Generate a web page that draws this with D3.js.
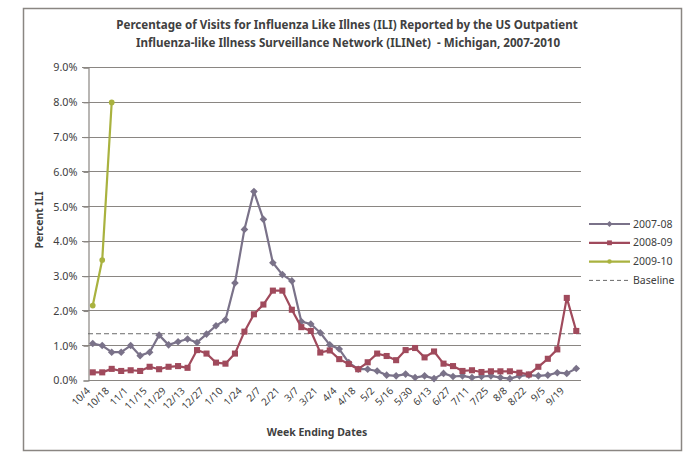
<!DOCTYPE html>
<meta charset="utf-8">
<style>
body {
  margin: 0;
  background: #fff;
  font-family: "Noto Sans", "DejaVu Sans", sans-serif;
}
text {
  fill: #404040;
}
.grid line {
  stroke: #8a8682;
  stroke-width: 1.2;
}
.title {
  font-weight: bold;
  font-size: 11.6px;
}
.axis-title {
  font-weight: bold;
  font-size: 10.5px;
}
</style>
<body>
<script src="https://cdn.jsdelivr.net/npm/d3@7/dist/d3.min.js"></script>
<script>

var weeks = ["10/4", "10/11", "10/18", "10/25", "11/1", "11/8", "11/15", "11/22", "11/29",
  "12/6", "12/13", "12/20", "12/27", "1/3", "1/10", "1/17", "1/24", "1/31", "2/7", "2/14",
  "2/21", "2/28", "3/7", "3/14", "3/21", "3/28", "4/4", "4/11", "4/18", "4/25", "5/2", "5/9",
  "5/16", "5/23", "5/30", "6/6", "6/13", "6/20", "6/27", "7/4", "7/11", "7/18", "7/25", "8/1",
  "8/8", "8/15", "8/22", "8/29", "9/5", "9/12", "9/19", "9/26"];

var s0708 = [1.05, 0.99, 0.80, 0.80, 0.99, 0.70, 0.80, 1.29, 1.01, 1.10, 1.18, 1.08, 1.32,
  1.56, 1.73, 2.79, 4.33, 5.42, 4.62, 3.37, 3.03, 2.85, 1.68, 1.61, 1.36, 1.01, 0.89, 0.50,
  0.31, 0.31, 0.26, 0.14, 0.12, 0.17, 0.07, 0.12, 0.04, 0.19, 0.10, 0.12, 0.07, 0.10, 0.12,
  0.07, 0.04, 0.12, 0.14, 0.12, 0.14, 0.21, 0.19, 0.33];

var s0809 = [0.22, 0.22, 0.32, 0.26, 0.28, 0.26, 0.38, 0.31, 0.38, 0.40, 0.35, 0.86, 0.76,
  0.50, 0.47, 0.76, 1.39, 1.89, 2.17, 2.57, 2.57, 2.02, 1.52, 1.41, 0.79, 0.85, 0.60, 0.46,
  0.31, 0.51, 0.76, 0.69, 0.57, 0.86, 0.92, 0.65, 0.82, 0.47, 0.40, 0.26, 0.28, 0.23, 0.25,
  0.25, 0.25, 0.21, 0.16, 0.38, 0.61, 0.88, 2.36, 1.41];

var s0910 = [2.14, 3.45, 7.98];

var baseline = 1.33;

var yTicks = [0, 1, 2, 3, 4, 5, 6, 7, 8, 9];

var series = [
  {name: "2007-08", values: s0708, color: "#7a7289", marker: "diamond"},
  {name: "2008-09", values: s0809, color: "#a04a5c", marker: "square"},
  {name: "2009-10", values: s0910, color: "#a9b23f", marker: "circle"}
];

var width = 696,
    height = 461;

var svg = d3.select("body").append("svg")
    .attr("width", width)
    .attr("height", height);

// outer frame
svg.append("rect")
    .attr("x", 23.5)
    .attr("y", 8.5)
    .attr("width", 658)
    .attr("height", 442)
    .style("fill", "none")
    .style("stroke", "#8a8682")
    .style("stroke-width", 1.5);

var x = d3.scaleBand()
    .domain(weeks)
    .range([88, 581]);

var y = d3.scaleLinear()
    .domain([0, 9])
    .range([380, 67]);

function cx(i) { return x(weeks[i]) + x.bandwidth() / 2; }

// gridlines
svg.append("g")
    .attr("class", "grid")
  .selectAll("line")
  .data(yTicks.filter(function(d) { return d > 0; }))
  .enter().append("line")
    .attr("x1", 82)
    .attr("x2", 581)
    .attr("y1", function(d) { return Math.round(y(d)) + 0.5; })
    .attr("y2", function(d) { return Math.round(y(d)) + 0.5; });

// y axis
var yAxis = svg.append("g")
    .attr("transform", "translate(88.5,0.5)")
    .call(d3.axisLeft(y).tickValues(yTicks).tickSize(5).tickPadding(6)
      .tickFormat(function(d) { return d.toFixed(1) + "%"; }));

yAxis.select(".domain").style("stroke", "#8a8682").style("stroke-width", 1.2);
yAxis.selectAll(".tick line").style("stroke", "#8a8682").style("stroke-width", 1.2);
yAxis.selectAll(".tick text")
    .style("font-family", "\"Noto Sans\", sans-serif")
    .style("font-size", "10.8px")
    .style("fill", "#404040");

// x axis
var xAxis = svg.append("g")
    .attr("transform", "translate(0," + (y(0) + 0.5) + ")")
    .call(d3.axisBottom(x).tickSize(0).tickPadding(0)
      .tickValues(weeks.filter(function(d, i) { return i % 2 === 0; })));

xAxis.select(".domain").attr("d", "M88," + 0 + "H581").style("stroke", "#8a8682").style("stroke-width", 1.2);
xAxis.selectAll(".tick text")
    .style("font-family", "\"Noto Sans\", sans-serif")
    .style("font-size", "10px")
    .style("fill", "#404040")
    .attr("text-anchor", "end")
    .attr("dy", "0")
    .attr("transform", "translate(-2,11) rotate(-45)");

// baseline
svg.append("line")
    .attr("x1", 88)
    .attr("x2", 581)
    .attr("y1", y(baseline))
    .attr("y2", y(baseline))
    .style("stroke", "#6a6a6a")
    .style("stroke-width", 1)
    .style("stroke-dasharray", "5,3");

var line = d3.line()
    .x(function(d, i) { return cx(i); })
    .y(function(d) { return y(d); });

function drawMarker(g, type, color, px, py, s) {
  if (type === "diamond") {
    g.append("path")
      .attr("d", "M" + px + "," + (py - s) + "L" + (px + s) + "," + py + "L" + px + "," + (py + s) + "L" + (px - s) + "," + py + "Z")
      .style("fill", color);
  } else if (type === "square") {
    g.append("rect")
      .attr("x", px - s * 0.8).attr("y", py - s * 0.8)
      .attr("width", s * 1.6).attr("height", s * 1.6)
      .style("fill", color);
  } else {
    g.append("circle")
      .attr("cx", px).attr("cy", py).attr("r", s * 0.75)
      .style("fill", color);
  }
}

series.forEach(function(s) {
  var g = svg.append("g");
  g.append("path")
    .datum(s.values)
    .attr("d", line)
    .style("fill", "none")
    .style("stroke", s.color)
    .style("stroke-width", 2.2)
    .style("stroke-linejoin", "round");
  s.values.forEach(function(v, i) {
    drawMarker(g, s.marker, s.color, cx(i), y(v), 3.8);
  });
});

// legend
var legend = svg.append("g");
var legendItems = series.map(function(s) { return s; }).concat([{name: "Baseline", dashed: true}]);
legendItems.forEach(function(s, i) {
  var ly = 224 + i * 18.8;
  if (s.dashed) {
    legend.append("line")
      .attr("x1", 589).attr("x2", 630).attr("y1", ly).attr("y2", ly)
      .style("stroke", "#6a6a6a").style("stroke-width", 1).style("stroke-dasharray", "4,3");
  } else {
    legend.append("line")
      .attr("x1", 589).attr("x2", 630).attr("y1", ly).attr("y2", ly)
      .style("stroke", s.color).style("stroke-width", 2.2);
    drawMarker(legend, s.marker, s.color, 609.5, ly, 3);
  }
  legend.append("text")
    .attr("x", 633)
    .attr("y", ly)
    .attr("dy", "0.35em")
    .style("font-size", "10.5px")
    .text(s.name);
});

// titles
svg.append("text")
    .attr("class", "title")
    .attr("x", 347)
    .attr("y", 28.5)
    .attr("text-anchor", "middle")
    .text("Percentage of Visits for Influenza Like Illnes (ILI) Reported by the US Outpatient");

svg.append("text")
    .attr("class", "title")
    .attr("x", 348)
    .attr("y", 46.5)
    .attr("text-anchor", "middle")
    .attr("xml:space", "preserve")
    .text("Influenza-like Illness Surveillance Network (ILINet)  - Michigan, 2007-2010");

svg.append("text")
    .attr("class", "axis-title")
    .attr("transform", "translate(43,220) rotate(-90)")
    .attr("text-anchor", "middle")
    .text("Percent ILI");

svg.append("text")
    .attr("class", "axis-title")
    .attr("x", 317)
    .attr("y", 436)
    .attr("text-anchor", "middle")
    .text("Week Ending Dates");

</script>
